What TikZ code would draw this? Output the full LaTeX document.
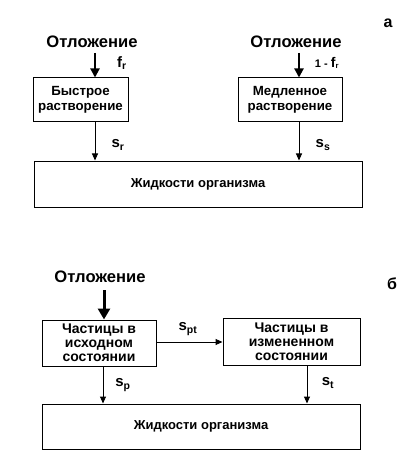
\documentclass[tikz,border=0pt]{standalone}
\usepackage{fontspec}
\setmainfont{Liberation Sans}
\usetikzlibrary{arrows.meta}
\begin{document}
\begin{tikzpicture}[x=1pt,y=-1pt,
  box/.style={draw, line width=1pt, inner sep=0pt, align=center, font=\bfseries\fontsize{13.3}{14.5}\selectfont},
  boxb/.style={box, font=\bfseries\fontsize{14}{14}\selectfont},
  fluid/.style={box, font=\bfseries\fontsize{13}{15}\selectfont},
  head/.style={font=\bfseries\fontsize{16.6}{18}\selectfont, inner sep=0pt},
  lbl/.style={font=\bfseries\fontsize{15}{17}\selectfont, inner sep=0pt},
  thin/.style={line width=1pt, -{Triangle[length=7pt,width=6pt]}},
  thick/.style={line width=2pt, -{Triangle[length=9pt,width=9pt]}},
  thicker/.style={line width=3pt, -{Triangle[length=11pt,width=12pt]}}]
\useasboundingbox (0,0) rectangle (418,473);
% panel a
\node[box, minimum width=95pt, minimum height=44pt] (b1) at (80.5,100) {Быстрое\\растворение};
\node[box, minimum width=104pt, minimum height=44pt] (b2) at (290,100) {Медленное\\растворение};
\node[fluid, minimum width=328pt, minimum height=46pt] (fa) at (198,184) {Жидкости организма};
\node[head] (d1) at (92,42) {Отложение};
\node[head] (d2) at (296,42) {Отложение};
\node[font=\bfseries\fontsize{16}{18}\selectfont, inner sep=0pt] (la) at (388,23) {а};
\coordinate (t1) at (95,53);
\coordinate (t2) at (299,53);
\draw[thick] (t1) -- (t1 |- b1.north);
\draw[thick] (t2) -- (t2 |- b2.north);
\node[lbl] (fr) at (122,63) {f\textsubscript{r}};
\node[font=\bfseries\fontsize{11}{12}\selectfont, inner sep=0pt] (ofr) at (327,63) {1 - {\fontsize{14}{15}\selectfont f}\textsubscript{r}};
\draw[thin] (t1 |- b1.south) -- (t1 |- fa.north);
\draw[thin] (t2 |- b2.south) -- (t2 |- fa.north);
\node[lbl] (sr) at (118,145) {s\textsubscript{r}};
\node[lbl] (ss) at (323,145) {s\textsubscript{s}};
% panel b
\node[head] (d3) at (100,277) {Отложение};
\node[font=\bfseries\fontsize{16}{18}\selectfont, inner sep=0pt] (lb) at (392,284) {б};
\node[boxb, minimum width=114pt, minimum height=46pt] (b3) at (99,343) {Частицы в\\исходном\\состоянии};
\node[boxb, minimum width=137pt, minimum height=47pt] (b4) at (291.5,341.5) {Частицы в\\измененном\\состоянии};
\node[fluid, minimum width=318pt, minimum height=45pt] (fb) at (201,426.5) {Жидкости организма};
\coordinate (t3) at (104,290);
\draw[thicker] (t3) -- (t3 |- b3.north);
\coordinate (m) at (0,342);
\draw[thin] (b3.east |- m) -- (b4.west |- m);
\node[lbl] (spt) at (188,329) {s\textsubscript{pt}};
\coordinate (t4) at (103,0);
\coordinate (t5) at (307,0);
\draw[thin] (t4 |- b3.south) -- (t4 |- fb.north);
\draw[thin] (t5 |- b4.south) -- (t5 |- fb.north);
\node[lbl] (sp) at (123,385) {s\textsubscript{p}};
\node[lbl] (st) at (328,383) {s\textsubscript{t}};
\end{tikzpicture}
\end{document}
